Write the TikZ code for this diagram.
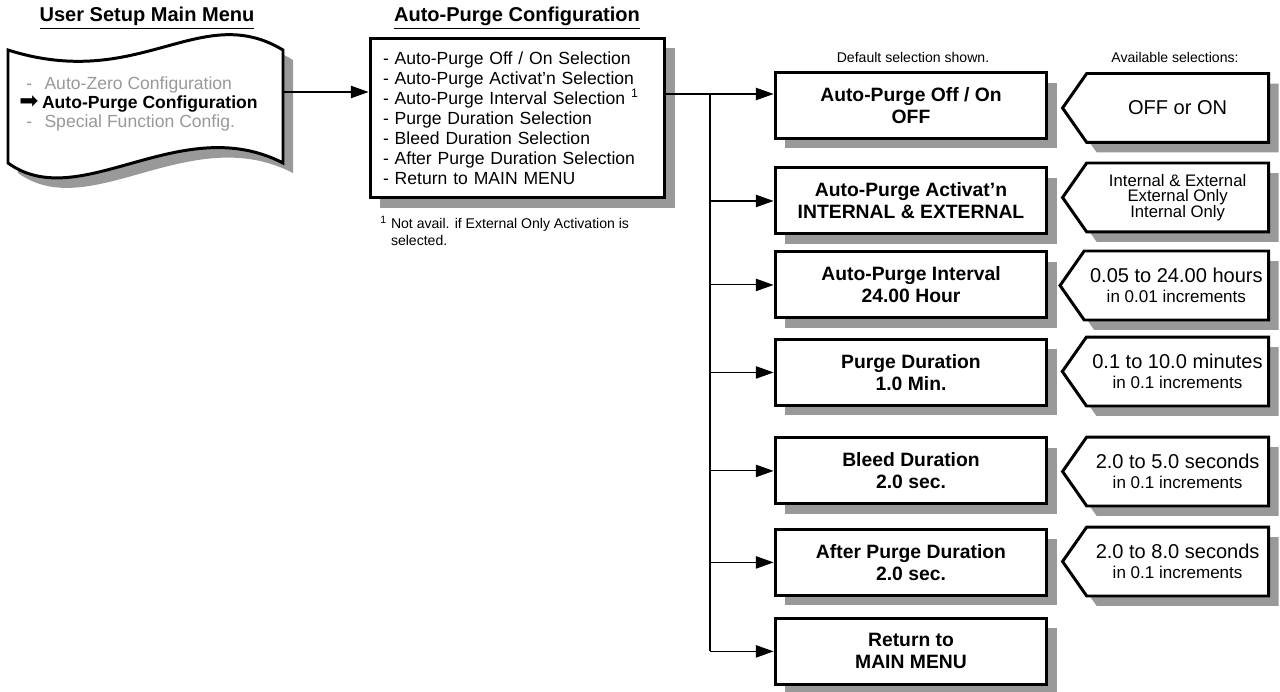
\documentclass[tikz,border=0pt]{standalone}
\usepackage{fontspec}
\setmainfont{Liberation Sans}
\newfontfamily\arrowfont{DejaVu Sans}
\usetikzlibrary{shapes.symbols, arrows.meta, shadows, positioning}
\definecolor{shade}{HTML}{999999}
\definecolor{dimtext}{HTML}{999999}
\tikzstyle{arrow} = [line width=0.6pt, -{Triangle[length=10pt,width=7pt]}]
\tikzstyle{link} = [line width=0.6pt]
\tikzstyle{heading} = [font=\fontsize{11.4}{13}\selectfont\bfseries]
\tikzstyle{note} = [inner sep=0pt, font=\fontsize{8}{9.7}\selectfont]
\tikzstyle{boxshadow} = [drop shadow={shadow xshift=0.2cm, shadow yshift=-0.2cm, fill=shade, opacity=1}]
\tikzstyle{wavebox} = [draw=black, line width=1.7pt, fill=white, boxshadow]
\tikzstyle{menulist} = [rectangle, draw=black, line width=1.7pt, fill=white, boxshadow, text width=5.38cm, inner xsep=0.26cm, minimum height=3.2cm, align=left, font=\fontsize{10}{11.4}\selectfont]
\tikzstyle{setting} = [rectangle, draw=black, line width=1.7pt, fill=white, boxshadow, minimum width=5.44cm, minimum height=1.32cm, align=center, font=\fontsize{11}{12.5}\selectfont\bfseries]
\tikzstyle{choice} = [signal, signal to=west, signal pointer angle=110, draw=black, line width=1.7pt, fill=white, boxshadow, minimum width=4.12cm, minimum height=1.38cm, align=center, font=\fontsize{11.4}{11.4}\selectfont]

\begin{document}
\begin{tikzpicture}[x=0.02cm, y=-0.02cm, node distance=1.8cm]
\useasboundingbox (0,0) rectangle (1280,692);

% left: user setup menu
\node (menutitle) [heading] at (147,18) {\underline{User Setup Main Menu}};
\draw[wavebox] (8,50) .. controls (140,92) and (200,0) .. (283,50) -- (283,163) .. controls (180,110) and (80,215) .. (8,163) -- cycle;
\node (menu) [anchor=west, inner sep=0pt, align=left, font=\fontsize{10}{10.8}\selectfont] at (19,104) {%
{\color{dimtext}\hspace*{4pt}-\hspace{7pt}Auto-Zero Configuration}\\
\smash{\arrowfont\fontsize{13}{10.8}\selectfont ➡}\hspace{2pt}\textbf{Auto-Purge Configuration}\\
{\color{dimtext}\hspace*{4pt}-\hspace{7pt}Special Function Config.}};
\coordinate (menuout) at (283,92);

% middle: configuration list
\node (cfgtitle) [heading] at (517,18) {\underline{Auto-Purge Configuration}};
\node (cfg) [menulist] at (517.5,118) {- Auto-Purge Off / On Selection\\
- Auto-Purge Activat{\char"27}n Selection\\
- Auto-Purge Interval Selection \textsuperscript{1}\\
- Purge Duration Selection\\
- Bleed Duration Selection\\
- After Purge Duration Selection\\
- Return to MAIN MENU};
\node (footnote) [note, anchor=north west, align=left] at (380,216) {\textsuperscript{1} Not avail. if External Only Activation is\\
\phantom{\textsuperscript{1} }selected.};

% right: settings and available selections
\node (deflabel) [note] at (913,57) {Default selection shown.};
\node (availlabel) [note] at (1175,57) {Available selections:};

\node (b1) [setting] at (911,105.5) {Auto-Purge Off / On\\OFF};
\node (b2) [setting, below of=b1, yshift=-0.11cm] {Auto-Purge Activat{\char"27}n\\INTERNAL \& EXTERNAL};
\node (b3) [setting, below of=b2, yshift=0.12cm] {Auto-Purge Interval\\24.00 Hour};
\node (b4) [setting, below of=b3, yshift=0.05cm] {Purge Duration\\1.0 Min.};
\node (b5) [setting, below of=b4, yshift=-0.17cm] {Bleed Duration\\2.0 sec.};
\node (b6) [setting, below of=b5, yshift=-0.03cm] {After Purge Duration\\2.0 sec.};
\node (b7) [setting, below of=b6, yshift=0.02cm] {Return to\\MAIN MENU};

\node (p1) [choice, anchor=east] at (1270,108) {OFF or ON};
\node (p2) [choice, anchor=east, font=\fontsize{9.5}{8.9}\selectfont] at (1270,197.5) {Internal \& External\\External Only\\Internal Only};
\node (p3) [choice, anchor=east] at (1270,285.5) {0.05 to 24.00 hours\\{\fontsize{9.7}{11.4}\selectfont in 0.01 increments}};
\node (p4) [choice, anchor=east] at (1270,371.5) {0.1 to 10.0 minutes\\{\fontsize{9.7}{11.4}\selectfont in 0.1 increments}};
\node (p5) [choice, anchor=east] at (1270,471.5) {2.0 to 5.0 seconds\\{\fontsize{9.7}{11.4}\selectfont in 0.1 increments}};
\node (p6) [choice, anchor=east] at (1270,561.5) {2.0 to 8.0 seconds\\{\fontsize{9.7}{11.4}\selectfont in 0.1 increments}};

\coordinate (split) at (710,94);

\draw [arrow] (menuout) -- (menuout -| cfg.west);
\draw [arrow] (cfg.east |- split) -- (split -| b1.west);
\draw [link] (split) -- (split |- b7);
\draw [arrow] (split |- b2) -- (b2.west);
\draw [arrow] (split |- b3) -- (b3.west);
\draw [arrow] (split |- b4) -- (b4.west);
\draw [arrow] (split |- b5) -- (b5.west);
\draw [arrow] (split |- b6) -- (b6.west);
\draw [arrow] (split |- b7) -- (b7.west);
\end{tikzpicture}
\end{document}
